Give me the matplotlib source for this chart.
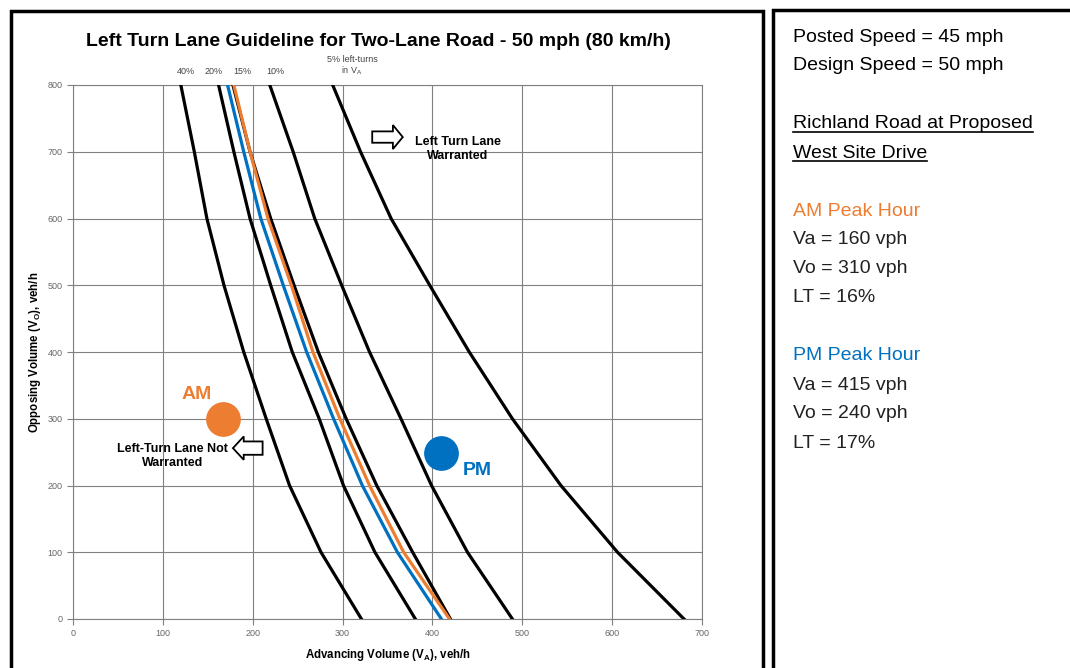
import matplotlib
matplotlib.use('Agg')
import matplotlib.pyplot as plt
from matplotlib.patches import Rectangle, FancyArrow
from matplotlib.lines import Line2D

# opposing volume levels where the curves were read (veh/h)
vo_levels = [800, 700, 600, 500, 400, 300, 200, 100, 0]
# advancing volume for each guideline curve (veh/h)
lt40 = [120, 135, 149, 168, 190, 215, 241, 276, 321]
lt20 = [162, 179, 197, 220, 244, 274, 301, 336, 381]
lt15 = [178, 197, 220, 246, 273, 304, 338, 378, 420]
lt10 = [219, 245, 269, 299, 330, 365, 399, 439, 489]
lt5 = [289, 320, 354, 397, 441, 489, 543, 606, 680]
am_curve = [179, 197, 217, 243, 267, 297, 330, 368, 419]
pm_curve = [172, 190, 209, 234, 260, 290, 322, 361, 410]

am_pt = (167, 300)
pm_pt = (410, 248)

curve_labels = ['40%', '20%', '15%', '10%']
curve_label_x = [186, 214, 242, 275]   # px positions above the plot

panel_lines = [
    ('Posted Speed = 45 mph', 'black', False),
    ('Design Speed = 50 mph', 'black', False),
    ('', 'black', False),
    ('Richland Road at Proposed', 'black', True),
    ('West Site Drive', 'black', True),
    ('', 'black', False),
    ('AM Peak Hour', '#ED7D31', False),
    ('Va = 160 vph', '#222222', False),
    ('Vo = 310 vph', '#222222', False),
    ('LT = 16%', '#222222', False),
    ('', 'black', False),
    ('PM Peak Hour', '#0070C0', False),
    ('Va = 415 vph', '#222222', False),
    ('Vo = 240 vph', '#222222', False),
    ('LT = 17%', '#222222', False),
]

ORANGE = '#ED7D31'
BLUE = '#0070C0'
W, H = 1070, 668
plt.rcParams['font.family'] = ['Liberation Sans', 'DejaVu Sans']

fig = plt.figure(figsize=(W / 100, H / 100), dpi=100)
ax = fig.add_axes([73 / W, 1 - 619 / H, (702 - 73) / W, (619 - 85) / H])

for xs in [lt40, lt20, lt15, lt10, lt5]:
    ax.plot(xs, vo_levels, color='black', lw=2.3, solid_joinstyle='round', zorder=3)
ax.plot(am_curve, vo_levels, color=ORANGE, lw=2.3, solid_joinstyle='round', zorder=4)
ax.plot(pm_curve, vo_levels, color=BLUE, lw=2.3, solid_joinstyle='round', zorder=4)

ax.plot(*am_pt, 'o', color=ORANGE, ms=24, zorder=5)
ax.plot(*pm_pt, 'o', color=BLUE, ms=24, zorder=5)
ax.text(138, 337, 'AM', color=ORANGE, fontsize=14, fontweight='bold',
        ha='center', va='center')
ax.text(450, 222, 'PM', color=BLUE, fontsize=14, fontweight='bold',
        ha='center', va='center')

ax.set_xlim(0, 700)
ax.set_ylim(0, 800)
ax.set_xticks(range(0, 701, 100))
ax.set_yticks(range(0, 801, 100))
ax.grid(True, color='#808080', lw=0.8)
for s in ax.spines.values():
    s.set_color('#808080')
    s.set_linewidth(0.8)
ax.tick_params(colors='#808080', labelcolor='#666666', labelsize=6.5, length=4, width=0.8)
ax.set_xlabel('Advancing Volume (V$_\\mathregular{A}$), veh/h', fontsize=8.3, fontweight='bold', labelpad=6)
ax.set_ylabel('Opposing Volume (V$_\\mathregular{O}$), veh/h', fontsize=8.3, fontweight='bold', labelpad=3)

# block arrows
ax.add_patch(FancyArrow(333, 722, 34, 0, width=17, head_width=36, head_length=11,
                        length_includes_head=True, fc='white', ec='black', lw=1.3, zorder=6))
ax.add_patch(FancyArrow(211, 256, -33, 0, width=20, head_width=35, head_length=12,
                        length_includes_head=True, fc='white', ec='black', lw=1.3, zorder=6))
ax.text(428, 704, 'Left Turn Lane\nWarranted', fontsize=9, fontweight='bold',
        ha='center', va='center', linespacing=1.3, zorder=6)
ax.text(111, 244, 'Left-Turn Lane Not\nWarranted', fontsize=9, fontweight='bold',
        ha='center', va='center', linespacing=1.3, zorder=6)

# title and curve labels
fig.text(378 / W, 1 - 41 / H, 'Left Turn Lane Guideline for Two-Lane Road - 50 mph (80 km/h)',
         fontsize=14, fontweight='bold', ha='center', va='center')
for lab, px in zip(curve_labels, curve_label_x):
    fig.text(px / W, 1 - 72 / H, lab, fontsize=6.5, color='#444444',
             ha='center', va='center')
fig.text(352 / W, 1 - 66 / H, '5% left-turns\nin V$_\\mathregular{A}$', fontsize=6.5,
         color='#444444', ha='center', va='center', linespacing=1.1)

# panel frames
fig.add_artist(Rectangle((11 / W, -0.02), (763 - 11) / W, 1.02 - 11 / H, transform=fig.transFigure,
                         fill=False, ec='black', lw=2.5))
fig.add_artist(Rectangle((773 / W, -0.02), 0.3, 1.02 - 10 / H, transform=fig.transFigure,
                         fill=False, ec='black', lw=2.5))

# right-hand notes
y0 = 37
texts = []
for i, (txt, col, ul) in enumerate(panel_lines):
    if not txt:
        continue
    t = fig.text(793 / W, 1 - (y0 + 29 * i) / H, txt, fontsize=14, color=col,
                 ha='left', va='center')
    texts.append((t, ul))

fig.canvas.draw()
r = fig.canvas.get_renderer()
for t, ul in texts:
    if ul:
        bb = t.get_window_extent(r)
        yl = bb.y0 + 1
        fig.add_artist(Line2D([bb.x0 / W, bb.x1 / W], [yl / H, yl / H],
                              transform=fig.transFigure, color='black', lw=1.2))

fig.savefig('out.png', dpi=100)
